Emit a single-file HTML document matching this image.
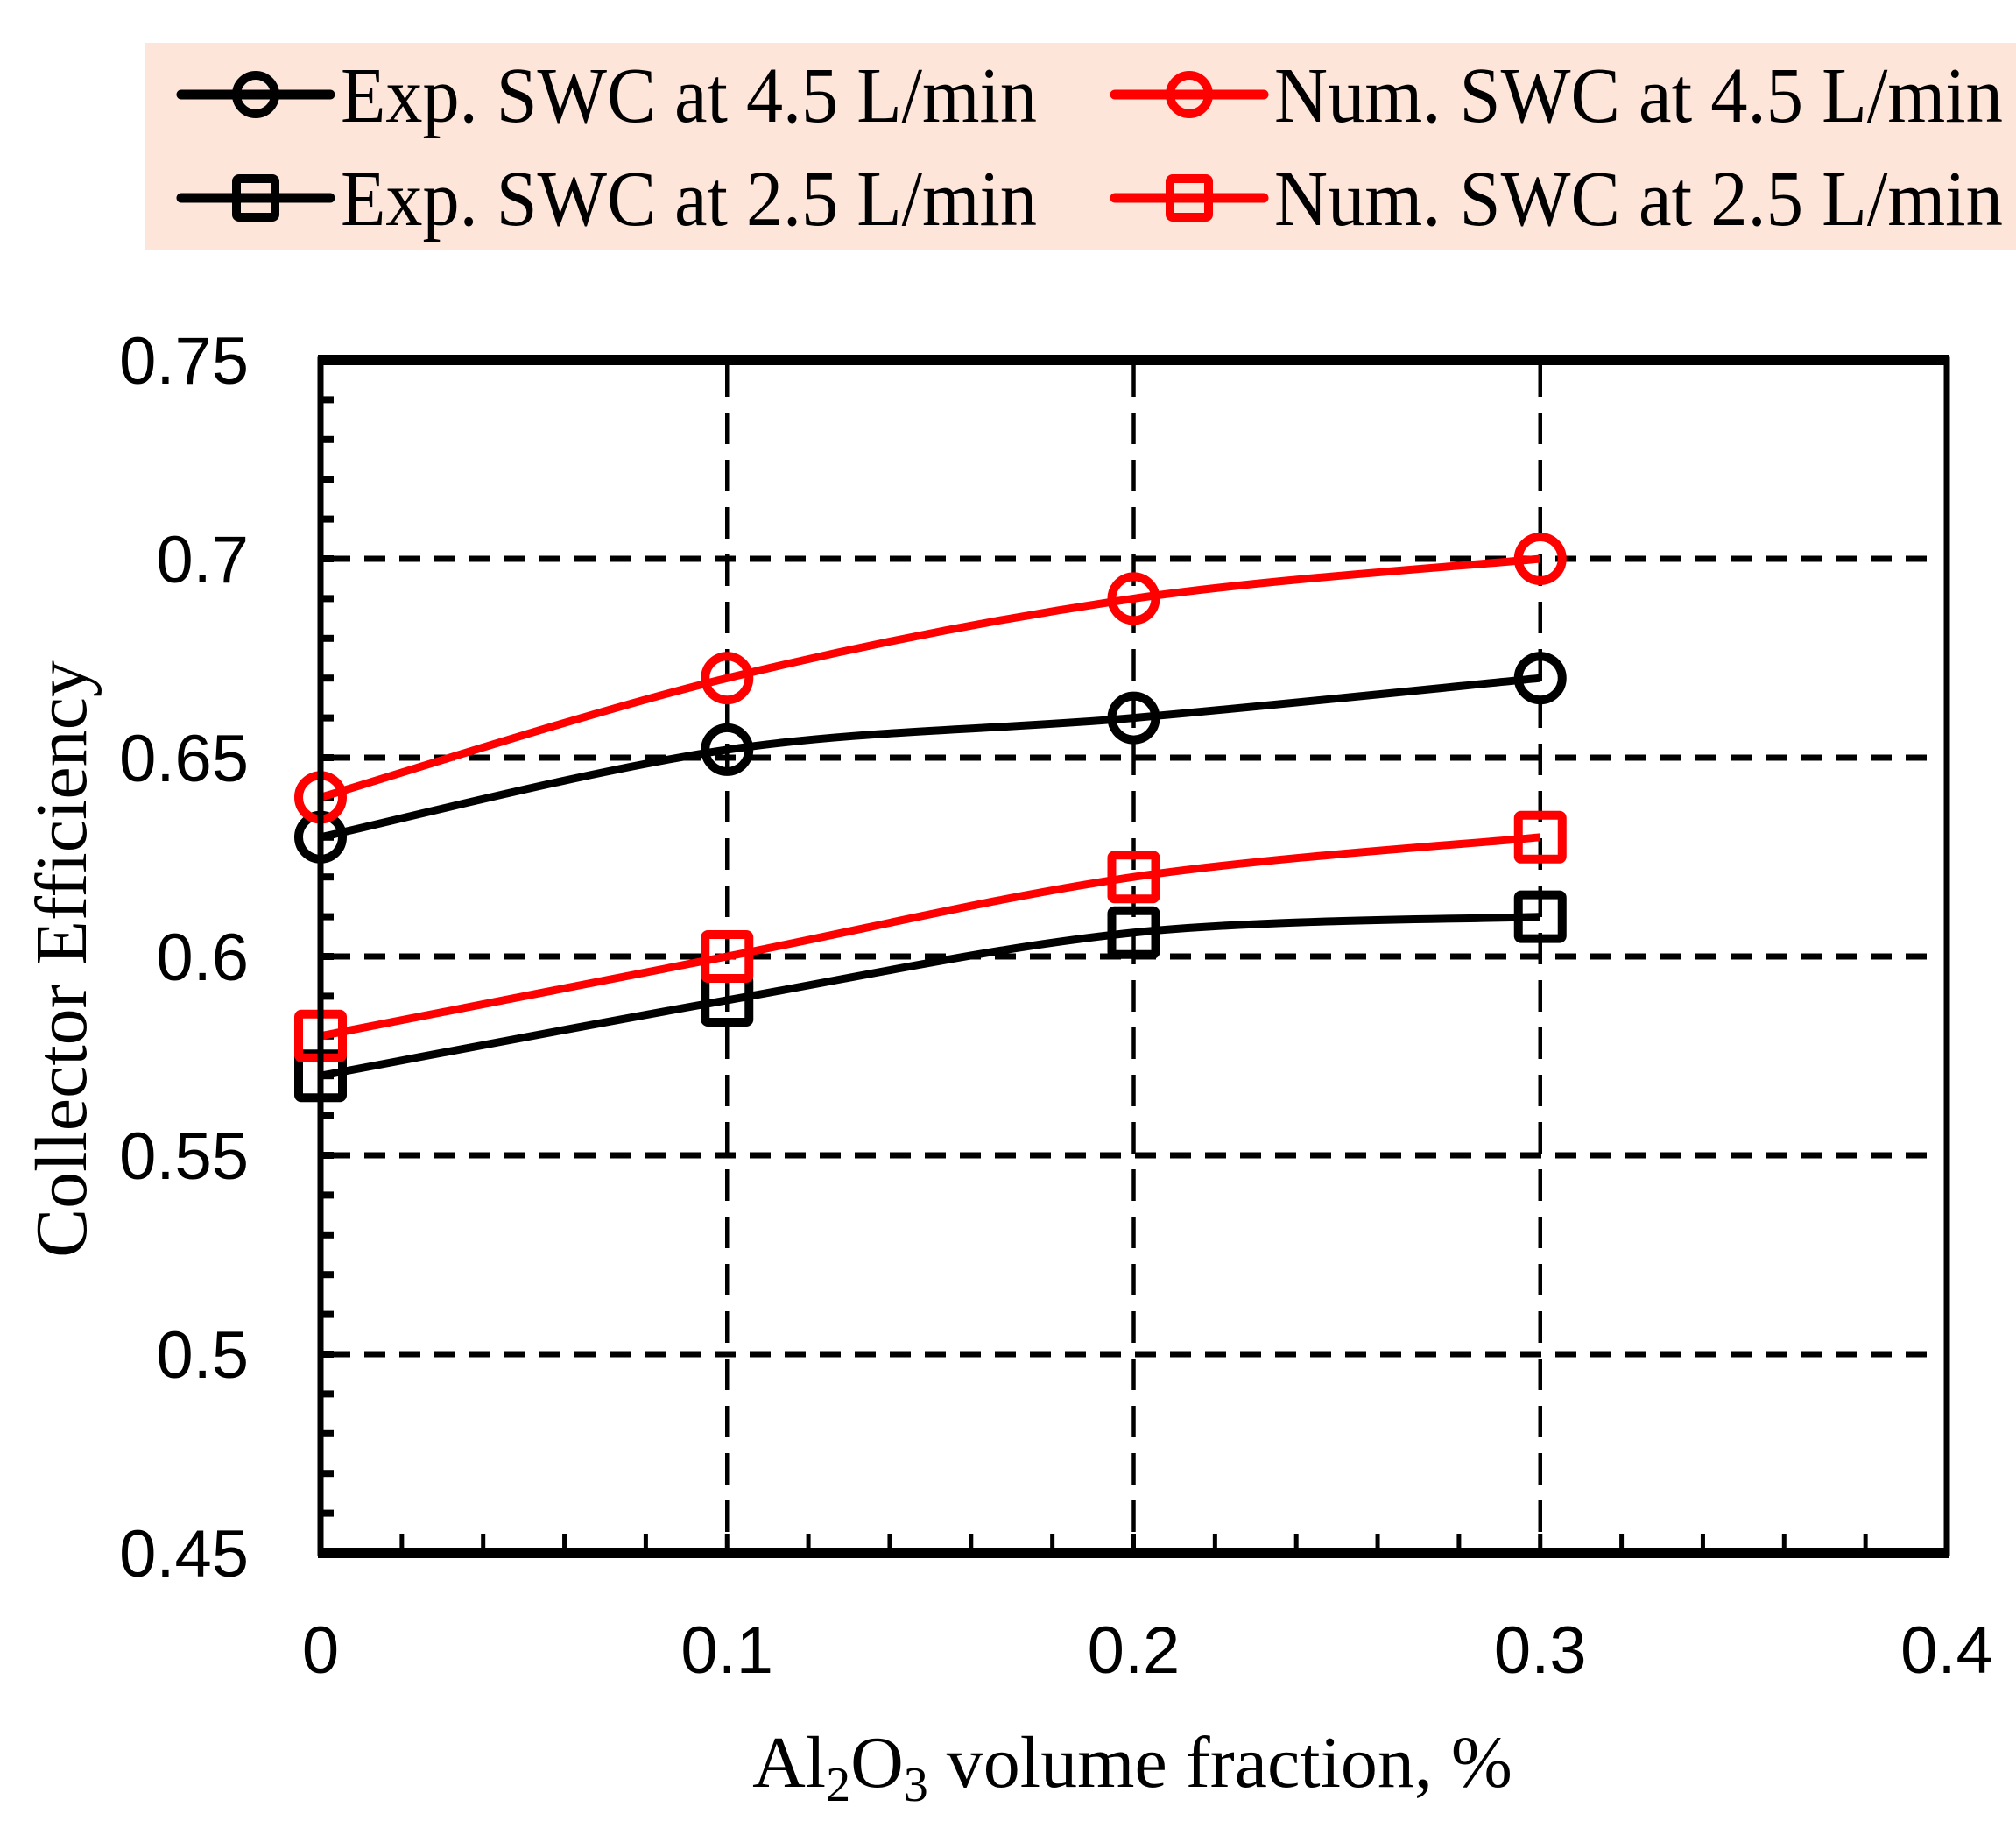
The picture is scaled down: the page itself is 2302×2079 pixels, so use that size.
<!DOCTYPE html>
<html><head><meta charset="utf-8"><style>
html,body{margin:0;padding:0;background:#fff;}
svg{display:block;}
.tick{font-family:"Liberation Sans",sans-serif;font-size:76px;fill:#000;}
.leg{font-family:"Liberation Serif",serif;font-size:90px;fill:#000;}
.ttl{font-family:"Liberation Serif",serif;font-size:84px;fill:#000;}
</style></head><body>
<svg id="chart" width="2302" height="2079" viewBox="0 0 2302 2079" xmlns="http://www.w3.org/2000/svg">
<rect x="166" y="49" width="2136" height="236" fill="#fde5d9"/>
<g id="legend"></g>
<g id="grid"></g>
<g id="ticks"></g>
<g id="series"></g>
<g id="frame"></g>
<text class="ttl" transform="translate(98,1095) rotate(-90)" text-anchor="middle">Collector Efficiency</text>
<text class="ttl" x="1293" y="2040" text-anchor="middle">Al<tspan font-size="56" dy="16">2</tspan><tspan dy="-16">O</tspan><tspan font-size="56" dy="16">3</tspan><tspan dy="-16"> volume fraction, %</tspan></text>
</svg>
<script>
const xValues = [0, 0.1, 0.2, 0.3];
const expSWC45 = [0.63, 0.652, 0.66, 0.67];
const numSWC45 = [0.64, 0.67, 0.69, 0.70];
const expSWC25 = [0.57, 0.589, 0.606, 0.61];
const numSWC25 = [0.58, 0.60, 0.62, 0.63];
const xTicks = [0, 0.1, 0.2, 0.3, 0.4];
const xTickLabels = ["0", "0.1", "0.2", "0.3", "0.4"];
const yTicks = [0.45, 0.5, 0.55, 0.6, 0.65, 0.7, 0.75];
const yTickLabels = ["0.45", "0.5", "0.55", "0.6", "0.65", "0.7", "0.75"];
const legendLabels = ["Exp. SWC at 4.5 L/min", "Num. SWC at 4.5 L/min", "Exp. SWC at 2.5 L/min", "Num. SWC at 2.5 L/min"];

const NS = "http://www.w3.org/2000/svg";
const L = 366, R = 2223, T = 411, B = 1773;
const xMin = 0, xMax = 0.4, yMin = 0.45, yMax = 0.75;
const xs = v => L + (v - xMin) / (xMax - xMin) * (R - L);
const ys = v => B - (v - yMin) / (yMax - yMin) * (B - T);
function mk(tag, attrs, parent) {
  const e = document.createElementNS(NS, tag);
  for (const k in attrs) e.setAttribute(k, attrs[k]);
  parent.appendChild(e);
  return e;
}
const grid = document.getElementById('grid');
const ticks = document.getElementById('ticks');
const series = document.getElementById('series');
const frame = document.getElementById('frame');
const legend = document.getElementById('legend');

yTicks.forEach((v, i) => {
  if (v === yMin || v === yMax) return;
  const g = mk('line', {x1: L + 10, x2: R - 10, y1: ys(v), y2: ys(v), stroke: '#000', 'stroke-width': 7, 'stroke-dasharray': '24 16'}, grid);
  
  
});
xTicks.forEach(v => {
  if (v === xMin || v === xMax) return;
  const g = mk('line', {x1: xs(v), x2: xs(v), y1: T + 6, y2: B - 6, stroke: '#000', 'stroke-width': 4.5, 'stroke-dasharray': '36 18'}, grid);
  
  
});
for (let v = yMin + 0.01; v < yMax - 0.001; v += 0.01) {
  const t = mk('line', {x1: L, x2: L + 15, y1: ys(v), y2: ys(v), stroke: '#000', 'stroke-width': 8}, ticks);
  
  
}
for (let v = xMin + 0.02; v < xMax - 0.001; v += 0.02) {
  const t = mk('line', {x1: xs(v), x2: xs(v), y1: B, y2: B - 22, stroke: '#000', 'stroke-width': 5}, ticks);
  
  
}
yTicks.forEach((v, i) => {
  const t = mk('text', {x: 284, y: ys(v) + 27, 'text-anchor': 'end', class: 'tick'}, ticks);
  t.textContent = yTickLabels[i];
  
  
});
xTicks.forEach((v, i) => {
  const t = mk('text', {x: xs(v), y: 1910, 'text-anchor': 'middle', class: 'tick'}, ticks);
  t.textContent = xTickLabels[i];
  
  
});
const fr = mk('path', {d: `M${L},${T} H${R} V${B} H${L} Z`, fill: 'none', stroke: '#000', 'stroke-width': 7}, frame);


const ft = mk('line', {x1: L - 3, x2: R + 3, y1: T, y2: T, stroke: '#000', 'stroke-width': 12}, frame);


const fb = mk('line', {x1: L - 3, x2: R + 3, y1: B, y2: B, stroke: '#000', 'stroke-width': 12}, frame);



function smoothPath(pts) {
  let d = `M${pts[0][0]},${pts[0][1]}`;
  for (let i = 0; i < pts.length - 1; i++) {
    const p0 = pts[Math.max(0, i - 1)], p1 = pts[i], p2 = pts[i + 1], p3 = pts[Math.min(pts.length - 1, i + 2)];
    const t = 1 / 6;
    const c1 = [p1[0] + (p2[0] - p0[0]) * t, p1[1] + (p2[1] - p0[1]) * t];
    const c2 = [p2[0] - (p3[0] - p1[0]) * t, p2[1] - (p3[1] - p1[1]) * t];
    d += ` C${c1[0]},${c1[1]} ${c2[0]},${c2[1]} ${p2[0]},${p2[1]}`;
  }
  return d;
}
function marker(parent, kind, cx, cy, color, size) {
  if (kind === 'circle') {
    return mk('circle', {cx: cx, cy: cy, r: size, fill: 'none', stroke: color, 'stroke-width': 10}, parent);
  }
  return mk('rect', {x: cx - size, y: cy - size, width: size * 2, height: size * 2, rx: 3, fill: 'none', stroke: color, 'stroke-width': 10}, parent);
}
const defs = [
  {vals: expSWC45, color: '#000', kind: 'circle', name: 'exp-swc-4-5'},
  {vals: expSWC25, color: '#000', kind: 'square', name: 'exp-swc-2-5'},
  {vals: numSWC45, color: '#ff0000', kind: 'circle', name: 'num-swc-4-5'},
  {vals: numSWC25, color: '#ff0000', kind: 'square', name: 'num-swc-2-5'}
];
defs.forEach(s => {
  const g = mk('g', {}, series);
  
  
  const pts = xValues.map((x, i) => [xs(x), ys(s.vals[i])]);
  const ln = mk('path', {d: smoothPath(pts), fill: 'none', stroke: s.color, 'stroke-width': 9}, g);
  
  
  pts.forEach(p => {
    const m = marker(g, s.kind, p[0], p[1], s.color, 25);
    
    
  });
});
const legPos = [[207, 108, '#000', 'circle'], [1273, 108, '#ff0000', 'circle'], [207, 226, '#000', 'square'], [1273, 226, '#ff0000', 'square']];
legendLabels.forEach((lab, i) => {
  const [lx, ly, col, kind] = legPos[i];
  const g = mk('g', {}, legend);
  
  
  const l = mk('line', {x1: lx, x2: lx + 170, y1: ly, y2: ly, stroke: col, 'stroke-width': 11, 'stroke-linecap': 'round'}, g);
  
  
  const m = marker(g, kind, lx + 85, ly, col, 22);
  
  
  const t = mk('text', {x: lx + 182, y: ly + 31, class: 'leg', textLength: i % 2 === 0 ? 795 : 832, lengthAdjust: 'spacingAndGlyphs'}, g);
  t.textContent = lab;
  
  
});
</script>
</body></html>
